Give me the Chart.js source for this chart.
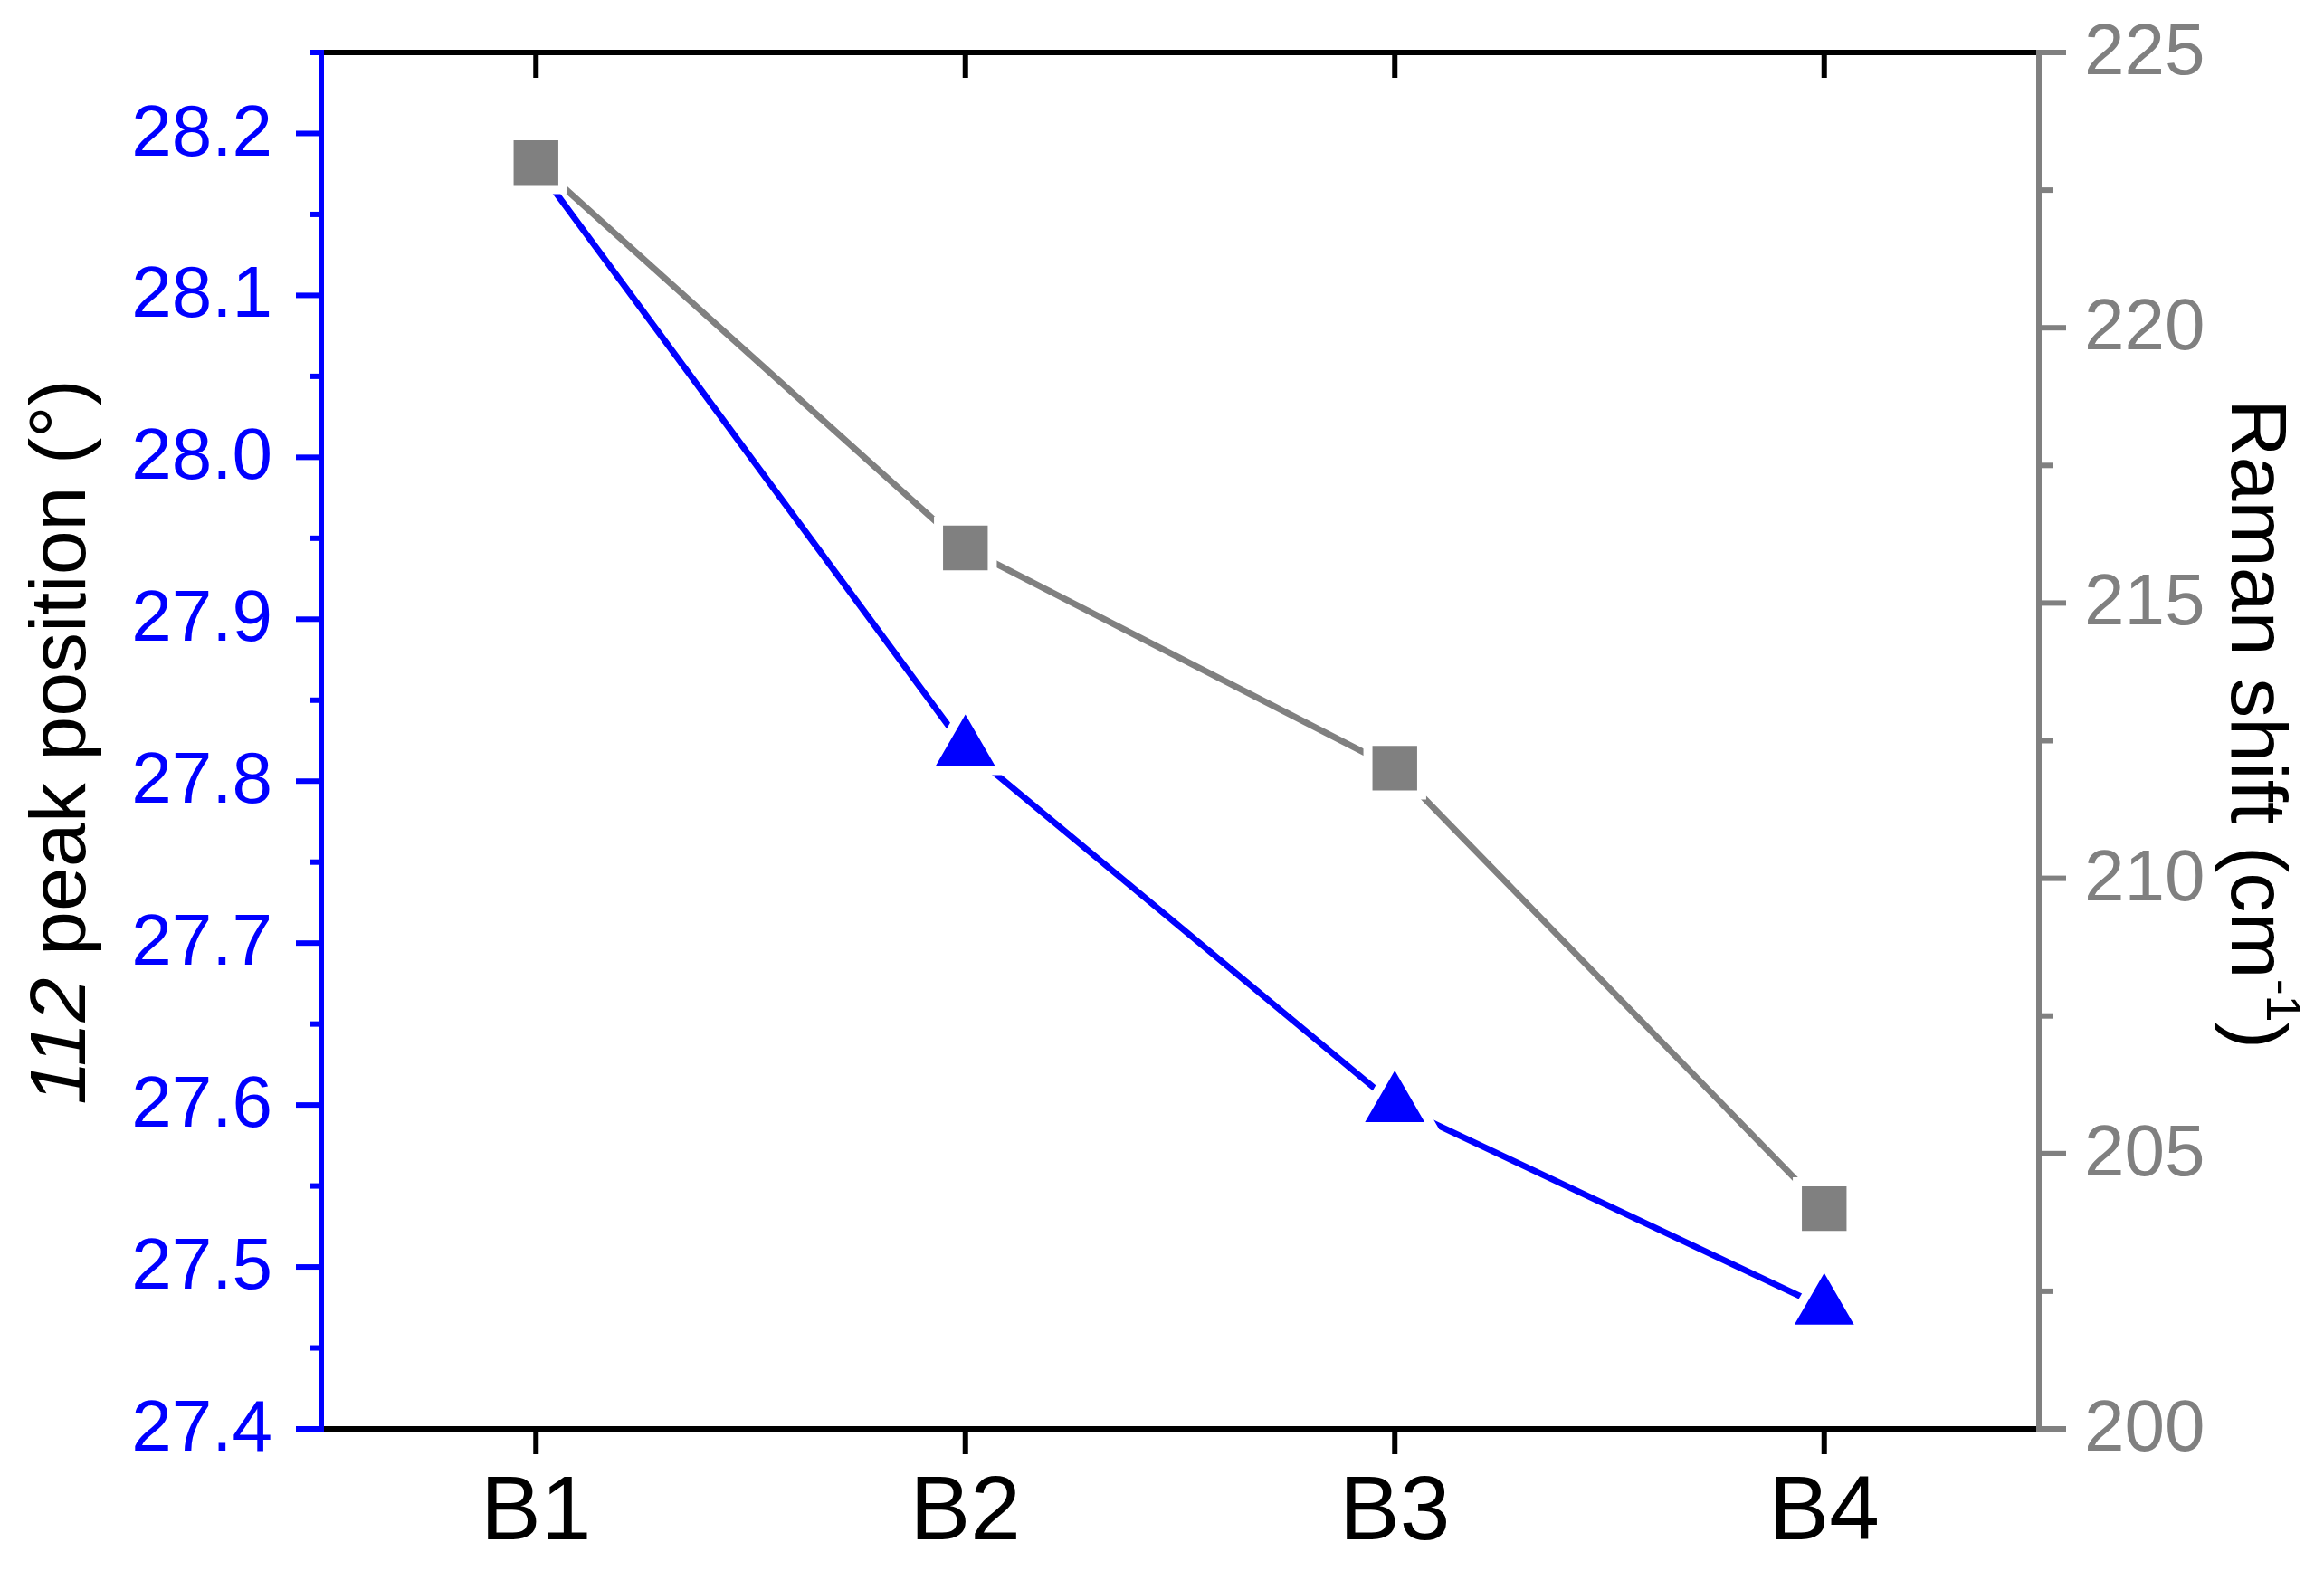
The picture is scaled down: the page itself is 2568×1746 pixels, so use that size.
<!DOCTYPE html>
<html><head><meta charset="utf-8">
<script src="https://cdn.jsdelivr.net/npm/chart.js@4/dist/chart.umd.min.js"></script>
<style>html,body{margin:0;padding:0;background:#fff}#w{width:2568px;height:1746px}</style>
</head><body><div id="w"><canvas id="c"></canvas></div>
<script>
const categories = ["B1","B2","B3","B4"];
const peakPosition = [28.18, 27.82, 27.60, 27.475];
const ramanShift = [223.0, 216.0, 212.0, 204.0];
const leftTicks = [27.4,27.5,27.6,27.7,27.8,27.9,28.0,28.1,28.2];
const rightTicks = [200,205,210,215,220,225];
const F = 'Arimo, "Liberation Sans", Arial, sans-serif';
const BLUE = '#0000ff', GREY = '#808080';

const deco = {
  id:'deco',
  afterDraw(chart){
    const ctx = chart.ctx, a = chart.chartArea;
    const yl = chart.scales.y, yr = chart.scales.y2, x = chart.scales.x;
    ctx.save();
    ctx.lineWidth = 6; ctx.lineCap='butt';
    ctx.strokeStyle = '#000';
    ctx.beginPath(); ctx.moveTo(a.left,a.bottom); ctx.lineTo(a.right,a.bottom); ctx.stroke();
    ctx.beginPath(); ctx.moveTo(a.left,a.top); ctx.lineTo(a.right,a.top); ctx.stroke();
    categories.forEach((c,i)=>{const p=x.getPixelForValue(i);
      ctx.beginPath();ctx.moveTo(p,a.bottom);ctx.lineTo(p,a.bottom+28);ctx.stroke();
      ctx.beginPath();ctx.moveTo(p,a.top);ctx.lineTo(p,a.top+28);ctx.stroke();});
    ctx.strokeStyle = BLUE; ctx.beginPath(); ctx.moveTo(a.left,a.top-3); ctx.lineTo(a.left,a.bottom+3); ctx.stroke();
    for(let v=27.4; v<=28.251; v+=0.05){
      const p = yl.getPixelForValue(v);
      const major = Math.abs(Math.round(v*10)-v*10)<1e-6;
      ctx.beginPath(); ctx.moveTo(a.left,p); ctx.lineTo(a.left-(major?28:12),p); ctx.stroke();
    }
    ctx.strokeStyle = GREY; ctx.beginPath(); ctx.moveTo(a.right,a.top-3); ctx.lineTo(a.right,a.bottom+3); ctx.stroke();
    for(let v=200; v<=225; v+=2.5){
      const p = yr.getPixelForValue(v);
      const major = v%5===0;
      ctx.beginPath(); ctx.moveTo(a.right,p); ctx.lineTo(a.right+(major?30:15),p); ctx.stroke();
    }
    ctx.font = '80px '+F; ctx.textBaseline='middle';
    ctx.fillStyle = BLUE; ctx.textAlign='right';
    leftTicks.forEach(v=>ctx.fillText(v.toFixed(1), a.left-54, yl.getPixelForValue(v)+2));
    ctx.fillStyle = GREY; ctx.textAlign='left';
    rightTicks.forEach(v=>ctx.fillText(String(v), a.right+50, yr.getPixelForValue(v)+2));
    ctx.fillStyle='#000'; ctx.textAlign='center'; ctx.textBaseline='middle'; ctx.font='100px '+F;
    categories.forEach((c,i)=>ctx.fillText(c, x.getPixelForValue(i), a.bottom+94));
    ctx.save(); ctx.translate(70, 820); ctx.rotate(-Math.PI/2); ctx.textBaseline='middle'; ctx.textAlign='left';
    ctx.font='italic 88px '+F; const t1='112'; const w1=ctx.measureText(t1).width;
    ctx.font='88px '+F; const t2=' peak position (°)'; const w2=ctx.measureText(t2).width;
    let sx=-(w1+w2)/2; ctx.font='italic 88px '+F; ctx.fillText(t1,sx,0); ctx.font='88px '+F; ctx.fillText(t2,sx+w1,0);
    ctx.restore();
    ctx.save(); ctx.translate(2490, 800); ctx.rotate(Math.PI/2); ctx.textBaseline='middle'; ctx.textAlign='left'; ctx.fillStyle='#000';
    ctx.font='88px '+F; const r1='Raman shift (cm'; const rw1=ctx.measureText(r1).width;
    ctx.font='54px '+F; const r2='-1'; const rw2=ctx.measureText(r2).width;
    ctx.font='88px '+F; const r3=')'; const rw3=ctx.measureText(r3).width;
    let rx=-(rw1+rw2+rw3)/2;
    ctx.fillText(r1,rx,0); ctx.font='54px '+F; ctx.fillText(r2,rx+rw1,-30); ctx.font='88px '+F; ctx.fillText(r3,rx+rw1+rw2,0);
    ctx.restore();
    ctx.restore();
  }
};

new Chart(document.getElementById('c'),{
  type:'line',
  data:{labels:categories,datasets:[
    {data:ramanShift,yAxisID:'y2',borderColor:GREY,backgroundColor:GREY,borderWidth:7,pointStyle:'rect',pointRadius:42,pointBorderWidth:10,pointBorderColor:'#fff',pointHoverRadius:42,tension:0},
    {data:peakPosition,yAxisID:'y',borderColor:BLUE,backgroundColor:BLUE,borderWidth:7,pointStyle:'triangle',pointRadius:48,pointBorderWidth:10,pointBorderColor:'#fff',pointHoverRadius:48,tension:0}
  ]},
  options:{responsive:true,maintainAspectRatio:false,animation:false,devicePixelRatio:1,
    layout:{padding:{top:55,left:0,right:0,bottom:0}},
    plugins:{legend:{display:false},tooltip:{enabled:false}},
    scales:{
      x:{type:'category',offset:true,grid:{display:false},border:{display:false},ticks:{display:false},afterFit(s){s.height=167;}},
      y:{position:'left',min:27.4,max:28.25,grid:{display:false},border:{display:false},ticks:{display:false},afterFit(s){s.width=355;}},
      y2:{position:'right',min:200,max:225,grid:{display:false},border:{display:false},ticks:{display:false},afterFit(s){s.width=315;}}
    }},
  plugins:[deco]
});
</script></body></html>
